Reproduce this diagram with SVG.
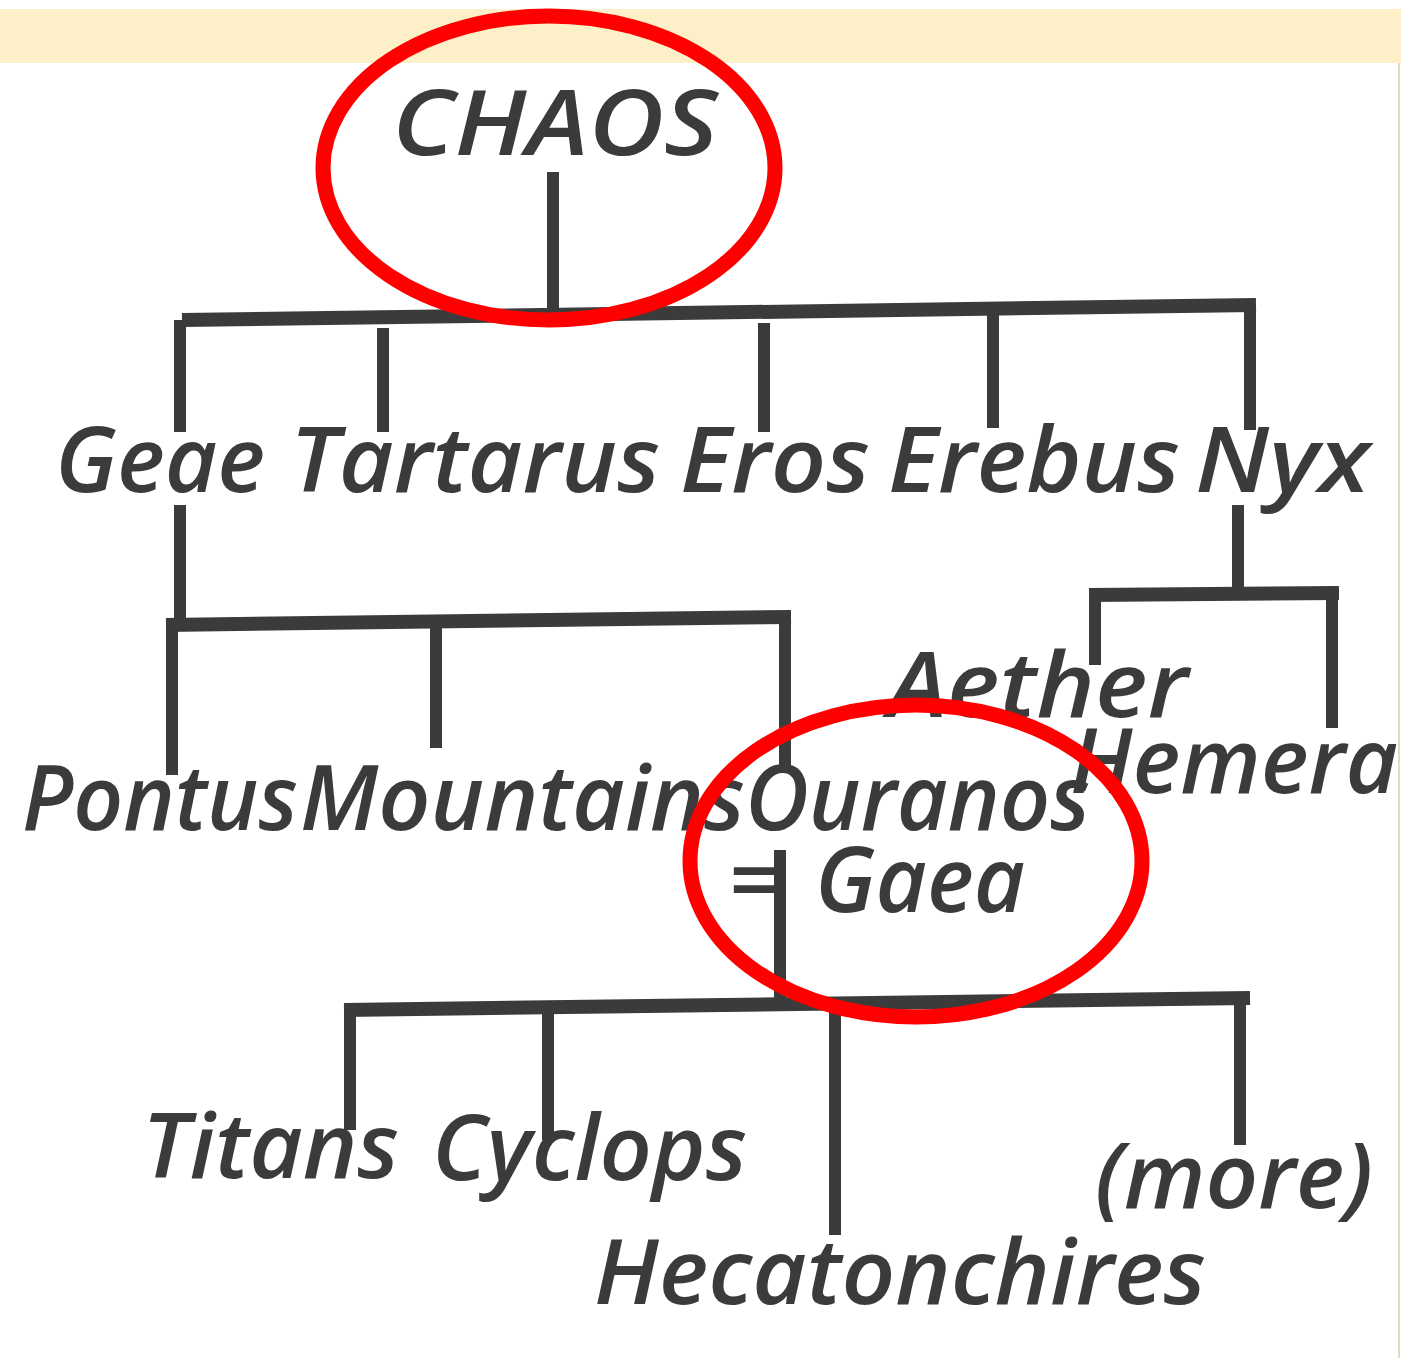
<svg xmlns="http://www.w3.org/2000/svg" width="1401" height="1358" viewBox="0 0 1401 1358">
<style>
  .t { font-family: "Open Sans", "Liberation Sans", sans-serif; font-style: italic; font-weight: 600; fill: #3b3b3b; font-size: 90px; }
  .c line { stroke: #3b3b3b; stroke-width: 12; stroke-linecap: butt; }
  .c line.bar { stroke-width: 14; }
  .ring { fill: none; stroke: #ff0000; stroke-width: 15; }
</style>
<rect x="0" y="0" width="1401" height="1358" fill="#ffffff"/>
<rect x="0" y="9" width="1401" height="54" fill="#fdf0c9"/>
<line x1="1399" y1="63" x2="1399" y2="1358" stroke="#e2dac4" stroke-width="2"/>

<g id="connectors" class="c">
  <line x1="553" y1="172" x2="553" y2="310"/>
  <line class="bar" x1="182" y1="320" x2="1256" y2="305"/>
  <line x1="180" y1="320" x2="180" y2="432"/>
  <line x1="383" y1="328" x2="383" y2="432"/>
  <line x1="764" y1="323" x2="764" y2="432"/>
  <line x1="993" y1="315" x2="993" y2="428"/>
  <line x1="1250" y1="305" x2="1250" y2="430"/>

  <line x1="180" y1="505" x2="180" y2="622"/>
  <line class="bar" x1="166" y1="625" x2="791" y2="617"/>
  <line x1="172" y1="625" x2="172" y2="775"/>
  <line x1="436" y1="623" x2="436" y2="748"/>
  <line x1="785" y1="612" x2="785" y2="772"/>

  <line x1="1238" y1="505" x2="1238" y2="590"/>
  <line class="bar" x1="1089" y1="595" x2="1339" y2="593"/>
  <line x1="1095" y1="595" x2="1095" y2="665"/>
  <line x1="1332" y1="593" x2="1332" y2="728"/>

  <line x1="780" y1="850" x2="780" y2="1000"/>
  <line class="bar" x1="344" y1="1010" x2="1250" y2="998"/>
  <line x1="350" y1="1008" x2="350" y2="1130"/>
  <line x1="548" y1="1008" x2="548" y2="1140"/>
  <line x1="835" y1="1005" x2="835" y2="1235"/>
  <line x1="1240" y1="998" x2="1240" y2="1145"/>
</g>

<g id="chaos"><text class="t" x="392" y="155" textLength="326" lengthAdjust="spacingAndGlyphs">CHAOS</text></g>
<g id="geae"><text class="t" x="55" y="492" textLength="210" lengthAdjust="spacingAndGlyphs">Geae</text></g>
<g id="tartarus"><text class="t" x="290" y="492" textLength="370" lengthAdjust="spacingAndGlyphs">Tartarus</text></g>
<g id="eros"><text class="t" x="680" y="492" textLength="190" lengthAdjust="spacingAndGlyphs">Eros</text></g>
<g id="erebus"><text class="t" x="888" y="492" textLength="292" lengthAdjust="spacingAndGlyphs">Erebus</text></g>
<g id="nyx"><text class="t" x="1195" y="492" textLength="175" lengthAdjust="spacingAndGlyphs">Nyx</text></g>
<g id="pontus"><text class="t" x="22" y="830" textLength="276" lengthAdjust="spacingAndGlyphs">Pontus</text></g>
<g id="mountains"><text class="t" x="300" y="830" textLength="445" lengthAdjust="spacingAndGlyphs">Mountains</text></g>
<g id="ouranos-gaea">
  <text class="t" x="745" y="830" textLength="345" lengthAdjust="spacingAndGlyphs">Ouranos</text>
  <text class="t" x="728" y="912">=<tspan x="815" textLength="210" lengthAdjust="spacingAndGlyphs">Gaea</tspan></text>
</g>
<g id="aether"><text class="t" x="888" y="717" textLength="300" lengthAdjust="spacingAndGlyphs">Aether</text></g>
<g id="hemera"><text class="t" x="1070" y="793" textLength="328" lengthAdjust="spacingAndGlyphs">Hemera</text></g>
<g id="titans"><text class="t" x="142" y="1178" textLength="257" lengthAdjust="spacingAndGlyphs">Titans</text></g>
<g id="cyclops"><text class="t" x="432" y="1180" textLength="315" lengthAdjust="spacingAndGlyphs">Cyclops</text></g>
<g id="hecatonchires"><text class="t" x="594" y="1304" textLength="612" lengthAdjust="spacingAndGlyphs">Hecatonchires</text></g>
<g id="more"><text class="t" x="1095" y="1208" textLength="278" lengthAdjust="spacingAndGlyphs">(more)</text></g>

<g id="highlights">
  <ellipse class="ring" cx="549" cy="168" rx="226" ry="152"/>
  <ellipse class="ring" cx="916" cy="861" rx="226" ry="156"/>
</g>
</svg>
